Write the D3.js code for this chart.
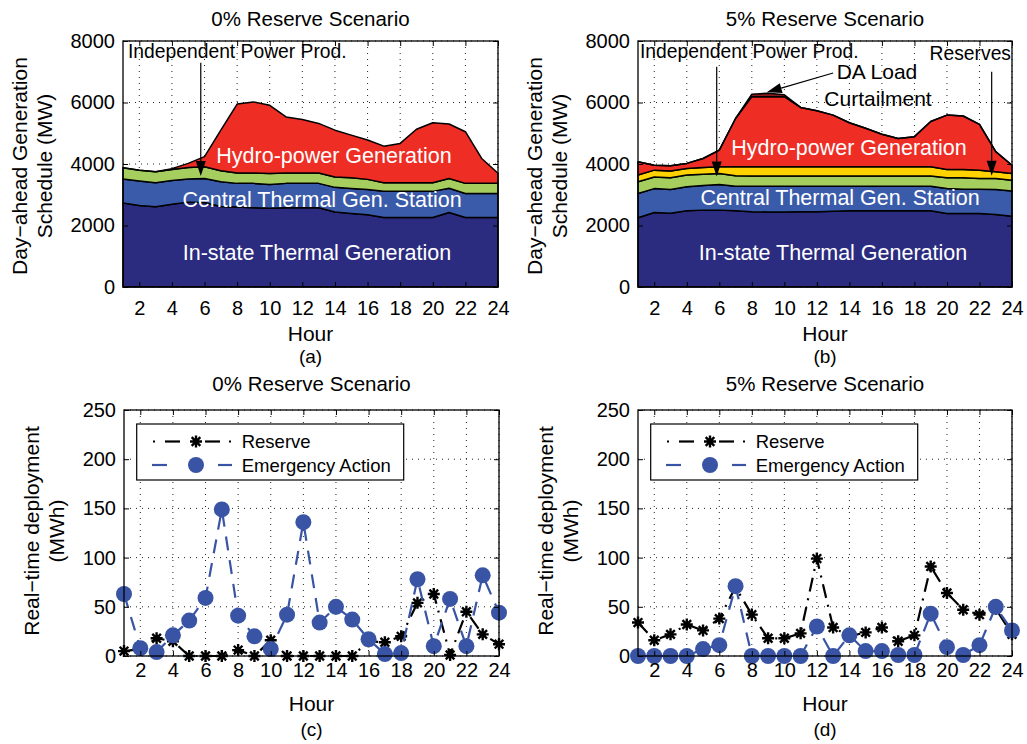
<!DOCTYPE html>
<html>
<head>
<meta charset="utf-8">
<script src="https://cdn.jsdelivr.net/npm/d3@7"></script>
<style>
  body { margin: 0; background: #fff; }
  text { font-family: "Liberation Sans", Arial, Helvetica, sans-serif; }
</style>
</head>
<body>
<svg id="fig" width="1027" height="744"></svg>
<script>
// ---------- data ----------
const hours = d3.range(1, 25);
const hourTicks = [2, 4, 6, 8, 10, 12, 14, 16, 18, 20, 22, 24];
const mwTicks = [0, 2000, 4000, 6000, 8000];
const mwhTicks = [0, 50, 100, 150, 200, 250];

// Day-ahead schedule, 0% reserve (MW per hour)
const inState0 = [2730, 2650, 2610, 2690, 2760, 2750, 2620, 2600, 2580, 2560, 2580, 2580, 2580, 2440, 2390, 2350, 2260, 2260, 2260, 2260, 2420, 2260, 2260, 2260];
const central0 = [780, 800, 780, 770, 750, 780, 800, 770, 790, 770, 790, 790, 790, 800, 810, 820, 850, 850, 850, 850, 790, 780, 780, 780];
const ipp0     = [370, 350, 360, 360, 380, 380, 360, 340, 340, 360, 340, 340, 340, 340, 350, 330, 280, 280, 280, 280, 320, 330, 330, 330];
const hydro0   = [0, 0, 0, 30, 130, 330, 1320, 2240, 2310, 2220, 1820, 1740, 1610, 1520, 1390, 1280, 1190, 1280, 1740, 1950, 1770, 1680, 810, 330];

// Day-ahead schedule, 5% reserve (MW per hour)
const inState5  = [2250, 2420, 2400, 2480, 2500, 2500, 2480, 2450, 2440, 2440, 2450, 2450, 2460, 2480, 2480, 2480, 2480, 2480, 2480, 2390, 2390, 2390, 2360, 2300];
const central5  = [790, 780, 770, 780, 800, 830, 800, 830, 840, 840, 830, 830, 820, 800, 800, 800, 800, 800, 800, 810, 790, 790, 810, 820];
const ipp5      = [380, 380, 380, 380, 370, 360, 340, 330, 330, 330, 330, 330, 330, 330, 330, 330, 330, 330, 330, 350, 370, 350, 360, 350];
const reserves5 = [220, 220, 220, 210, 220, 220, 290, 300, 300, 300, 300, 300, 300, 300, 300, 300, 300, 300, 300, 270, 270, 270, 220, 220];
const hydro5    = [430, 160, 170, 170, 290, 540, 1570, 2280, 2280, 2280, 1930, 1820, 1680, 1430, 1250, 1060, 920, 980, 1470, 1770, 1740, 1490, 650, 270];
const curtail5  = [0, 0, 0, 0, 0, 0, 0, 80, 110, 60, 0, 0, 0, 0, 0, 0, 0, 0, 0, 0, 0, 0, 0, 0];

// Real-time deployment (MWh per hour)
const reserveRT0   = [5, 7, 18, 15, 0, 0, 0, 6, 0, 16, 0, 0, 0, 0, 0, 15, 14, 20, 54, 63, 1, 45, 22, 12];
const emergencyRT0 = [63, 8, 4, 21, 36, 59, 149, 41, 20, 7, 42, 136, 34, 50, 37, 17, 2, 3, 78, 10, 58, 10, 82, 44];
const reserveRT5   = [34, 16, 22, 32, 26, 38, 70, 42, 18, 18, 23, 99, 29, 20, 24, 29, 15, 21, 91, 64, 47, 42, 48, 22];
const emergencyRT5 = [0, 0, 0, 0, 7, 11, 71, 0, 0, 0, 0, 30, 0, 21, 5, 5, 1, 1, 43, 9, 1, 11, 50, 26];

const layerColor = {
  inState: "#2b2c7f",
  central: "#3a5ba9",
  ipp: "#a6ce5f",
  reserves: "#ffd200",
  hydro: "#ee2d24",
  curtail: "#8a1a1a"
};
const circleBlue = "#3954a4";

// ---------- helpers ----------
const svg = d3.select("#fig");
const FONT = "'Liberation Sans', Arial, Helvetica, sans-serif";

function frame(box, yDomain, yTicks, opts) {
  const g = svg.append("g");
  const x = d3.scaleLinear().domain([1, 24]).range([box.x0, box.x1]);
  const y = d3.scaleLinear().domain(yDomain).range([box.y1, box.y0]);

  // dotted grid
  const grid = g.append("g").attr("class", "grid");
  grid.selectAll("line.gx").data(hourTicks).join("line")
    .attr("x1", d => x(d)).attr("x2", d => x(d))
    .attr("y1", box.y0).attr("y2", box.y1)
    .attr("stroke", "#222").attr("stroke-width", 1).attr("stroke-dasharray", "1,5");
  grid.selectAll("line.gy").data(yTicks).join("line")
    .attr("x1", box.x0).attr("x2", box.x1)
    .attr("y1", d => y(d)).attr("y2", d => y(d))
    .attr("stroke", "#222").attr("stroke-width", 1).attr("stroke-dasharray", "1,5");

  // title
  svg.append("text").attr("x", (box.x0 + box.x1) / 2).attr("y", opts.titleY)
    .attr("text-anchor", "middle").attr("font-size", 20.5).text(opts.title);
  // x label and sub caption
  svg.append("text").attr("x", (box.x0 + box.x1) / 2).attr("y", opts.xLabelY)
    .attr("text-anchor", "middle").attr("font-size", 21).text("Hour");
  svg.append("text").attr("x", (box.x0 + box.x1) / 2).attr("y", opts.subY)
    .attr("text-anchor", "middle").attr("font-size", 19).text(opts.sub);
  // y label (two lines)
  opts.yLabel.forEach((line, i) => {
    svg.append("text")
      .attr("transform", `translate(${opts.yLabelX[i]},${opts.yLabelCY}) rotate(-90)`)
      .attr("text-anchor", "middle").attr("dominant-baseline", "central")
      .attr("font-size", 21).text(line);
  });

  return { g, x, y, box, yTicks, opts };
}

function axes(p) {
  const { x, y, box, yTicks, opts } = p;
  const ax = svg.append("g");
  const styleAxis = sel => {
    sel.attr("font-family", FONT).attr("font-size", 20);
    sel.selectAll(".domain").remove();
    sel.selectAll(".tick line").attr("stroke", "#000").attr("stroke-width", 1);
    sel.selectAll(".tick text").attr("fill", "#000");
  };
  ax.append("g").attr("transform", `translate(0,${box.y1})`)
    .call(d3.axisBottom(x).tickValues(hourTicks).tickSize(-5).tickPadding(opts.xTickPad))
    .call(styleAxis);
  ax.append("g").attr("transform", `translate(${box.x0},0)`)
    .call(d3.axisLeft(y).tickValues(yTicks).tickFormat(d3.format("d")).tickSize(-5).tickPadding(8))
    .call(styleAxis);
  ax.append("g").attr("transform", `translate(0,${box.y0})`)
    .call(d3.axisTop(x).tickValues(hourTicks).tickSize(-5).tickFormat(""))
    .call(styleAxis);
  ax.append("g").attr("transform", `translate(${box.x1},0)`)
    .call(d3.axisRight(y).tickValues(yTicks).tickSize(-5).tickFormat(""))
    .call(styleAxis);
  ax.append("rect").attr("x", box.x0).attr("y", box.y0)
    .attr("width", box.x1 - box.x0).attr("height", box.y1 - box.y0)
    .attr("fill", "none").attr("stroke", "#000").attr("stroke-width", 1.3);
}

function arrow(g, x1, y1, x2, y2) {
  const ang = Math.atan2(y2 - y1, x2 - x1);
  const L = 15, W = 5;
  const bx = x2 - L * Math.cos(ang), by = y2 - L * Math.sin(ang);
  g.append("line").attr("x1", x1).attr("y1", y1).attr("x2", bx).attr("y2", by)
    .attr("stroke", "#000").attr("stroke-width", 1.2);
  const px = -Math.sin(ang) * W, py = Math.cos(ang) * W;
  g.append("path")
    .attr("d", `M${x2},${y2}L${bx + px},${by + py}L${bx - px},${by - py}Z`)
    .attr("fill", "#000");
}

function stackedPanel(p, rows, keys) {
  const { g, x, y } = p;
  const series = d3.stack().keys(keys)(rows);
  const area = d3.area()
    .x(d => x(d.data.hour))
    .y0(d => y(d[0]))
    .y1(d => y(d[1]));
  g.append("g").selectAll("path").data(series).join("path")
    .attr("d", area)
    .attr("fill", d => layerColor[d.key])
    .attr("stroke", "#000").attr("stroke-width", 1.5)
    .attr("stroke-linejoin", "round");
}

function whiteLabel(g, x, y, text) {
  g.append("text").attr("x", x).attr("y", y).attr("text-anchor", "middle")
    .attr("font-size", 21.5).attr("fill", "#fff").text(text);
}

const starPath = (r => {
  const d = r * 0.72;
  return `M${-r},0L${r},0M0,${-r}L0,${r}M${-d},${-d}L${d},${d}M${-d},${d}L${d},${-d}`;
})(6);

function rtPanel(p, reserve, emergency) {
  const { g, x, y, box } = p;
  const line = d3.line().x((d, i) => x(hours[i])).y(d => y(d));

  // reserve: black dash-dot with star markers
  g.append("path").attr("d", line(reserve)).attr("fill", "none")
    .attr("stroke", "#000").attr("stroke-width", 2.2)
    .attr("stroke-dasharray", "14,7,2,7");
  g.append("g").selectAll("path").data(reserve).join("path")
    .attr("transform", (d, i) => `translate(${x(hours[i])},${y(d)})`)
    .attr("d", starPath).attr("stroke", "#000").attr("stroke-width", 2.4)
    .attr("fill", "none");

  // emergency action: blue dashed with filled circles
  g.append("path").attr("d", line(emergency)).attr("fill", "none")
    .attr("stroke", circleBlue).attr("stroke-width", 2.2)
    .attr("stroke-dasharray", "14,10");
  g.append("g").selectAll("circle").data(emergency).join("circle")
    .attr("cx", (d, i) => x(hours[i])).attr("cy", d => y(d)).attr("r", 8)
    .attr("fill", circleBlue);

  // legend
  const lx = box.x0 + 12.7, ly = box.y0 + 14;
  const lg = svg.append("g");
  lg.append("rect").attr("x", lx).attr("y", ly).attr("width", 267).attr("height", 56)
    .attr("fill", "#fff").attr("stroke", "#000").attr("stroke-width", 1.2);
  const r1 = box.y0 + 31.5, r2 = box.y0 + 55;
  const bx = box.x0;
  // reserve sample: dot, dash, star, dash, dot
  lg.append("line").attr("x1", bx + 29).attr("x2", bx + 31).attr("y1", r1).attr("y2", r1)
    .attr("stroke", "#000").attr("stroke-width", 2);
  lg.append("line").attr("x1", bx + 41).attr("x2", bx + 56).attr("y1", r1).attr("y2", r1)
    .attr("stroke", "#000").attr("stroke-width", 2.2);
  lg.append("path").attr("transform", `translate(${bx + 72},${r1})`).attr("d", starPath)
    .attr("stroke", "#000").attr("stroke-width", 2.4).attr("fill", "none");
  lg.append("line").attr("x1", bx + 81).attr("x2", bx + 96).attr("y1", r1).attr("y2", r1)
    .attr("stroke", "#000").attr("stroke-width", 2.2);
  lg.append("line").attr("x1", bx + 105).attr("x2", bx + 107).attr("y1", r1).attr("y2", r1)
    .attr("stroke", "#000").attr("stroke-width", 2);
  // emergency sample: dash, circle, dash
  lg.append("line").attr("x1", bx + 28).attr("x2", bx + 43).attr("y1", r2).attr("y2", r2)
    .attr("stroke", circleBlue).attr("stroke-width", 2.2);
  lg.append("circle").attr("cx", bx + 72).attr("cy", r2).attr("r", 8).attr("fill", circleBlue);
  lg.append("line").attr("x1", bx + 94).attr("x2", bx + 108).attr("y1", r2).attr("y2", r2)
    .attr("stroke", circleBlue).attr("stroke-width", 2.2);
  lg.append("text").attr("x", bx + 117.7).attr("y", r1).attr("dominant-baseline", "central")
    .attr("font-size", 18.5).text("Reserve");
  lg.append("text").attr("x", bx + 117.7).attr("y", r2).attr("dominant-baseline", "central")
    .attr("font-size", 18.5).text("Emergency Action");
}

// ---------- (a) day-ahead, 0% reserve ----------
const rowsA = hours.map((h, i) => ({ hour: h, inState: inState0[i], central: central0[i], ipp: ipp0[i], hydro: hydro0[i] }));
const pA = frame({ x0: 123, x1: 498, y0: 41, y1: 287 }, [0, 8000], mwTicks, {
  title: "0% Reserve Scenario", titleY: 26, xLabelY: 341, subY: 363, sub: "(a)",
  yLabel: ["Day\u2212ahead Generation", "Schedule (MW)"], yLabelX: [19, 44], yLabelCY: 166, xTickPad: 14
});
stackedPanel(pA, rowsA, ["inState", "central", "ipp", "hydro"]);
whiteLabel(pA.g, 334, 163, "Hydro-power Generation");
whiteLabel(pA.g, 322, 207, "Central Thermal Gen. Station");
whiteLabel(pA.g, 317, 260, "In-state Thermal Generation");
axes(pA);
svg.append("text").attr("x", pA.box.x0 + 5).attr("y", 58).attr("font-size", 19.3).text("Independent Power Prod.");
arrow(svg, pA.x(5.77), pA.y(7290), pA.x(5.77), pA.y(3610));

// ---------- (b) day-ahead, 5% reserve ----------
const rowsB = hours.map((h, i) => ({ hour: h, inState: inState5[i], central: central5[i], ipp: ipp5[i], reserves: reserves5[i], hydro: hydro5[i], curtail: curtail5[i] }));
const pB = frame({ x0: 638, x1: 1012, y0: 41, y1: 287 }, [0, 8000], mwTicks, {
  title: "5% Reserve Scenario", titleY: 26, xLabelY: 341, subY: 363, sub: "(b)",
  yLabel: ["Day\u2212ahead Generation", "Schedule (MW)"], yLabelX: [534, 559], yLabelCY: 166, xTickPad: 14
});
stackedPanel(pB, rowsB, ["inState", "central", "ipp", "reserves", "hydro", "curtail"]);
whiteLabel(pB.g, 849, 155, "Hydro-power Generation");
whiteLabel(pB.g, 840, 205, "Central Thermal Gen. Station");
whiteLabel(pB.g, 833, 260, "In-state Thermal Generation");
axes(pB);
svg.append("text").attr("x", pB.box.x0 + 2).attr("y", 58).attr("font-size", 19.3).text("Independent Power Prod.");
svg.append("text").attr("x", pB.box.x1 - 1).attr("y", 60).attr("text-anchor", "end").attr("font-size", 19.3).text("Reserves");
svg.append("text").attr("x", 877).attr("y", 79).attr("text-anchor", "middle").attr("font-size", 21).text("DA Load");
svg.append("text").attr("x", 878).attr("y", 106).attr("text-anchor", "middle").attr("font-size", 21).text("Curtailment");
arrow(svg, pB.x(5.84), pB.y(7160), pB.x(5.84), pB.y(3590));
arrow(svg, pB.x(22.75), pB.y(7000), pB.x(22.75), pB.y(3620));
arrow(svg, pB.x(13.0), pB.y(6960), pB.x(8.92), pB.y(6330));

// ---------- (c) real-time, 0% reserve ----------
const pC = frame({ x0: 124, x1: 499, y0: 410, y1: 656 }, [0, 250], mwhTicks, {
  title: "0% Reserve Scenario", titleY: 391, xLabelY: 711, subY: 736, sub: "(c)",
  yLabel: ["Real\u2212time deployment", "(MWh)"], yLabelX: [31, 56], yLabelCY: 531, xTickPad: 7
});
axes(pC);
rtPanel(pC, reserveRT0, emergencyRT0);

// ---------- (d) real-time, 5% reserve ----------
const pD = frame({ x0: 638, x1: 1012, y0: 410, y1: 656 }, [0, 250], mwhTicks, {
  title: "5% Reserve Scenario", titleY: 391, xLabelY: 711, subY: 736, sub: "(d)",
  yLabel: ["Real\u2212time deployment", "(MWh)"], yLabelX: [545, 570], yLabelCY: 531, xTickPad: 7
});
axes(pD);
rtPanel(pD, reserveRT5, emergencyRT5);
</script>
</body>
</html>
